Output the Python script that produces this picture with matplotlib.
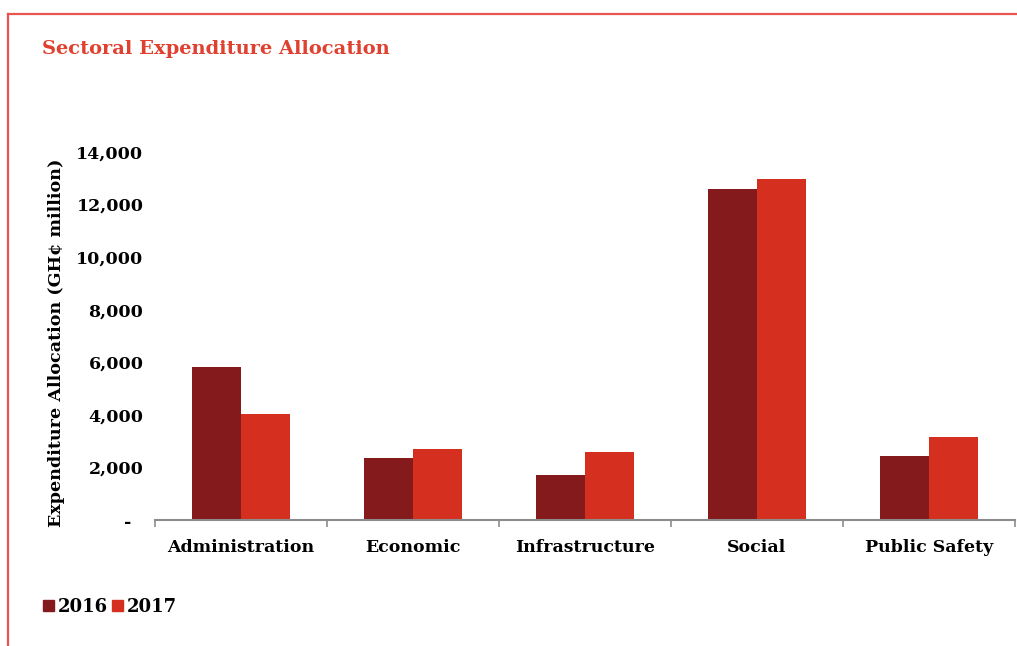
import matplotlib.pyplot as plt
import numpy as np
from matplotlib.lines import Line2D
from matplotlib.ticker import FuncFormatter, FixedLocator

sectors = ["Administration", "Economic", "Infrastructure", "Social", "Public Safety"]
alloc_2016 = [5800, 2350, 1700, 12600, 2430]
alloc_2017 = [4050, 2700, 2600, 12950, 3150]
years = ["2016", "2017"]
colors = ["#841a1b", "#d5301f"]

plt.rcParams['font.family'] = ['DejaVu Serif']
plt.rcParams['font.weight'] = 'bold'
plt.rcParams['axes.labelweight'] = 'bold'

fig = plt.figure(figsize=(10.17, 6.46), dpi=100)
ax = fig.add_axes([0.152, 0.195, 0.846, 0.57])

x = np.arange(len(sectors))
w = 0.285
ax.bar(x - w / 2, alloc_2016, w, color=colors[0], edgecolor="none")
ax.bar(x + w / 2, alloc_2017, w, color=colors[1], edgecolor="none")

ax.set_xlim(-0.5, len(sectors) - 0.5)
ax.set_ylim(0, 14000)
ax.set_yticks(np.arange(0, 14001, 2000))
ax.yaxis.set_major_formatter(FuncFormatter(lambda v, p: "-  " if v == 0 else f"{v:,.0f}"))
ax.tick_params(axis="y", length=0, labelsize=12.5, pad=8)

ax.set_xticks(x)
ax.set_xticklabels(sectors)
ax.xaxis.set_minor_locator(FixedLocator(np.arange(-0.5, len(sectors), 1.0)))
ax.tick_params(axis="x", which="major", length=0, labelsize=12.5, pad=14)
ax.tick_params(axis="x", which="minor", length=5, width=1.2, color="#8c8c8c", direction="out")

for s in ["top", "right", "left"]:
    ax.spines[s].set_visible(False)
ax.spines["bottom"].set_color("#8c8c8c")
ax.spines["bottom"].set_linewidth(1.5)

ax.set_ylabel("Expenditure Allocation (GH¢ million)", fontsize=12.6, fontweight="bold")
ax.yaxis.set_label_coords(-0.104, 0.482)

# frame lines along top and left edges
red = "#e8554e"
fig.add_artist(Line2D([0.008, 1.0], [1 - 14 / 646, 1 - 14 / 646], color=red, lw=1.6))
fig.add_artist(Line2D([0.008, 0.008], [0, 1 - 14 / 646], color=red, lw=1.6))

fig.text(0.041, 1 - 49 / 646, "Sectoral Expenditure Allocation", color="#e0402f",
         fontsize=14, fontweight="bold", va="center", ha="left")

# legend row
handles = [plt.Rectangle((0, 0), 1, 1, color=c) for c in colors]
fig.legend(handles, years, loc="center left", bbox_to_anchor=(0.026, 1 - 607 / 646),
           ncol=2, frameon=False, fontsize=13, handlelength=0.6, handleheight=0.6,
           handletextpad=0.25, columnspacing=0.2)

fig.savefig("out.png", dpi=100)
